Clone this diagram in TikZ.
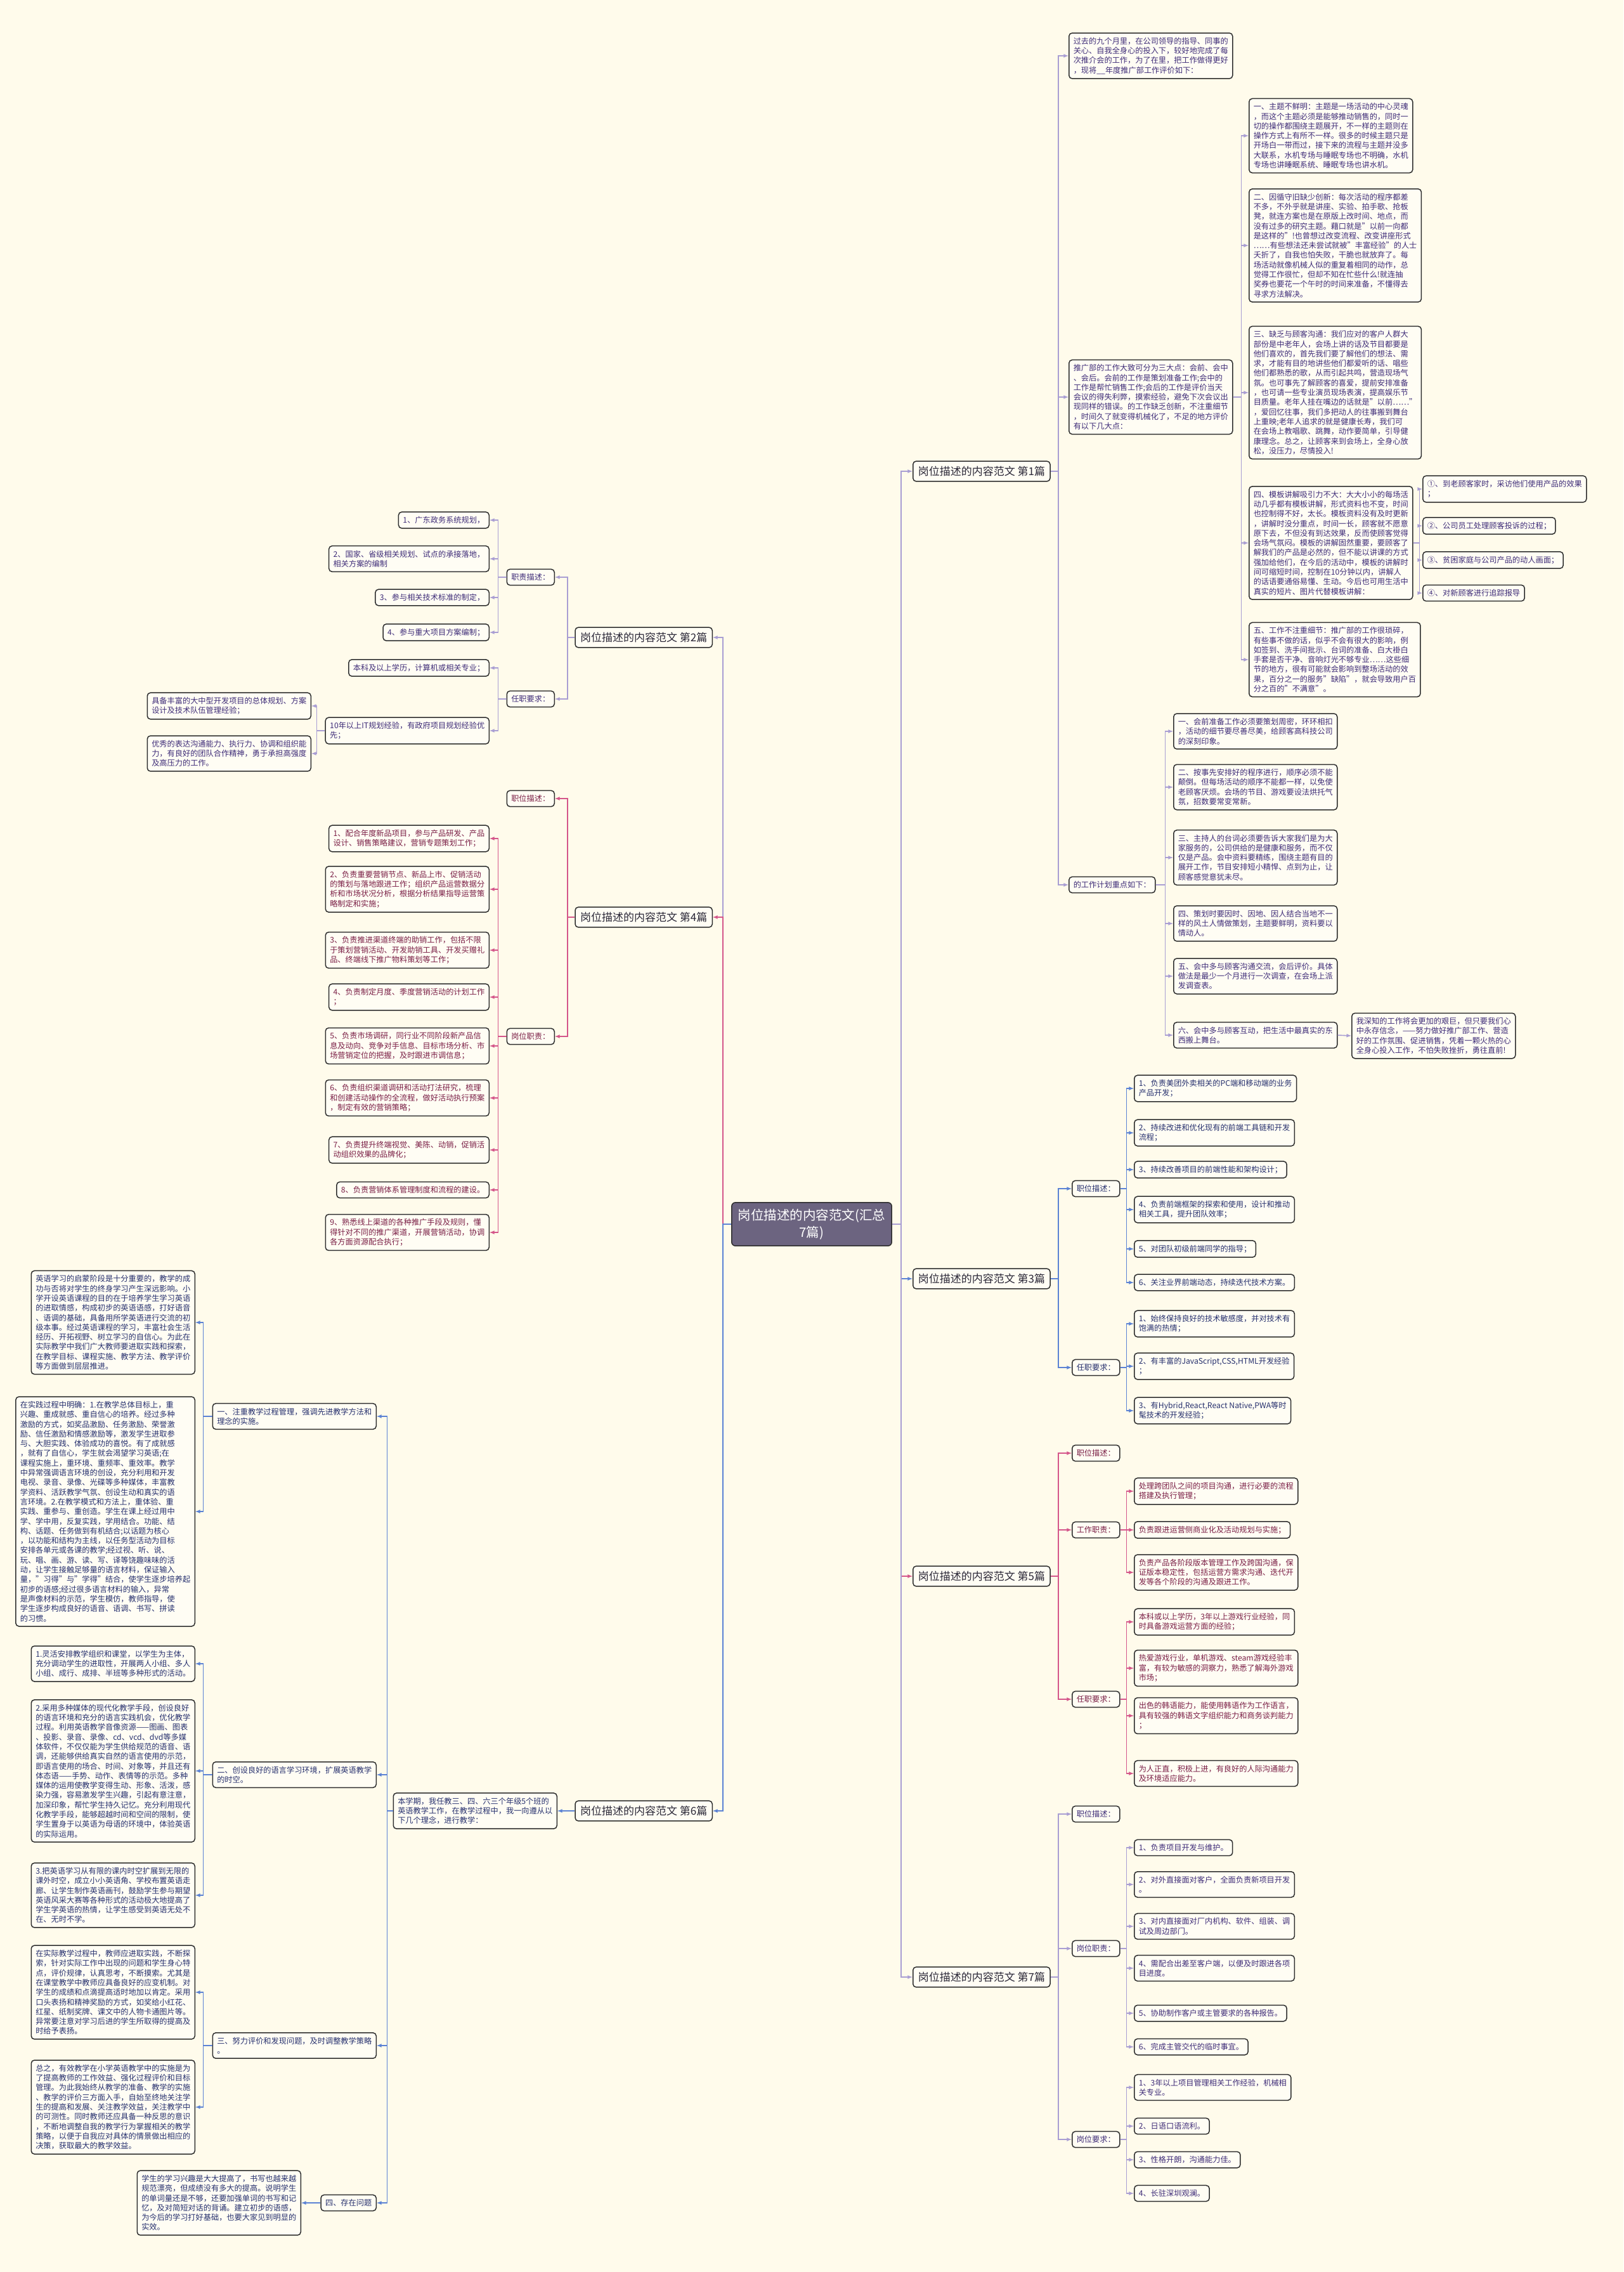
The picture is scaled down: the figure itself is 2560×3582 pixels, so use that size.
\documentclass[tikz,border=0pt]{standalone}
\usepackage{fontspec}
\setmainfont{Noto Sans CJK SC}
\definecolor{bg-cream}{HTML}{FFFBEB}
\definecolor{box-fill}{HTML}{FFFDF4}
\definecolor{box-line}{HTML}{2E2E2E}
\definecolor{root-fill}{HTML}{6C6480}
\definecolor{head-text}{HTML}{2B2838}
\definecolor{pu-text}{HTML}{3E2C78}
\definecolor{pk-text}{HTML}{7A1E45}
\definecolor{bl-text}{HTML}{26306E}
\definecolor{pu-line}{HTML}{A99ED3}
\definecolor{pk-line}{HTML}{D4568A}
\definecolor{bl-line}{HTML}{5B82D4}

\begin{document}
\begin{tikzpicture}[x=1pt, y=-1pt,
  box/.style={draw=box-line, fill=box-fill, rounded corners=5pt, line width=1.5pt,
    inner xsep=7pt, inner ysep=7pt, align=left, font=\fontsize{12.2}{15.3}\selectfont},
  head/.style={box, inner ysep=8pt, inner xsep=8pt, font=\fontsize{17}{20}\selectfont, text=head-text},
  root/.style={draw=box-line, fill=root-fill, rounded corners=6pt, line width=1.5pt,
    inner xsep=10pt, inner ysep=10pt, align=center, text=white, font=\fontsize{20.5}{27}\selectfont},
  pu/.style={text=pu-text}, pk/.style={text=pk-text}, bl/.style={text=bl-text},
  pu link/.style={draw=pu-line, line width=1.6pt, -latex},
  pk link/.style={draw=pk-line, line width=1.6pt, -latex},
  bl link/.style={draw=bl-line, line width=1.6pt, -latex}]
\useasboundingbox (0,0) rectangle (2560,3582);
\fill[bg-cream] (0,0) rectangle (2560,3582);

\node[root] (root) at (1280, 1930) {岗位描述的内容范文(汇总\\7篇)};

\node[head, anchor=west] (s1) at (1439, 743) {岗位描述的内容范文 第1篇};
\node[head, anchor=west] (s3) at (1439, 2016) {岗位描述的内容范文 第3篇};
\node[head, anchor=west] (s5) at (1439, 2485) {岗位描述的内容范文 第5篇};
\node[head, anchor=west] (s7) at (1439, 3117) {岗位描述的内容范文 第7篇};
\node[head, anchor=east] (s2) at (1124, 1005) {岗位描述的内容范文 第2篇};
\node[head, anchor=east] (s4) at (1124, 1446) {岗位描述的内容范文 第4篇};
\node[head, anchor=east] (s6) at (1124, 2855) {岗位描述的内容范文 第6篇};
\draw[pu link] (root.east) -- ++(14,0) |- (s1.west);
\draw[bl link] (root.east) -- ++(14,0) |- (s3.west);
\draw[pk link] (root.east) -- ++(14,0) |- (s5.west);
\draw[pu link] (root.east) -- ++(14,0) |- (s7.west);
\draw[pu link] (root.west) -- ++(-13,0) |- (s2.east);
\draw[pk link] (root.west) -- ++(-13,0) |- (s4.east);
\draw[bl link] (root.west) -- ++(-13,0) |- (s6.east);

% 第1篇
\node[box, pu, anchor=west]
  (s1-intro)
  at (1685, 88)
  {过去的九个月里，在公司领导的指导、同事的\\关心、自我全身心的投入下，较好地完成了每\\次推介会的工作，为了在里，把工作做得更好\\，现将\_\_年度推广部工作评价如下：};
\node[box, pu, anchor=west]
  (s1-main)
  at (1685, 626)
  {推广部的工作大致可分为三大点：会前、会中\\、会后。会前的工作是策划准备工作;会中的\\工作是帮忙销售工作;会后的工作是评价当天\\会议的得失利弊，摸索经验，避免下次会议出\\现同样的错误。的工作缺乏创新，不注重细节\\，时间久了就变得机械化了，不足的地方评价\\有以下几大点：};
\node[box, pu, anchor=west]
  (s1-plan)
  at (1685, 1395)
  {的工作计划重点如下：};
\foreach \n in {s1-intro, s1-main, s1-plan}
  \draw[pu link] (s1.east) -- ++(12,0) |- (\n.west);
\foreach \i/\y/\txt in {
    1/214/{一、主题不鲜明：主题是一场活动的中心灵魂\\，而这个主题必须是能够推动销售的，同时一\\切的操作都围绕主题展开，不一样的主题则在\\操作方式上有所不一样。很多的时候主题只是\\开场白一带而过，接下来的流程与主题并没多\\大联系，水机专场与睡眠专场也不明确，水机\\专场也讲睡眠系统、睡眠专场也讲水机。},
    2/387/{二、因循守旧缺少创新：每次活动的程序都差\\不多，不外乎就是讲座、实验、拍手歌、抢板\\凳，就连方案也是在原版上改时间、地点，而\\没有过多的研究主题。藉口就是"以前一向都\\是这样的"!也曾想过改变流程、改变讲座形式\\……有些想法还未尝试就被"丰富经验"的人士\\夭折了，自我也怕失败，干脆也就放弃了。每\\场活动就像机械人似的重复着相同的动作，总\\觉得工作很忙，但却不知在忙些什么!就连抽\\奖券也要花一个午时的时间来准备，不懂得去\\寻求方法解决。},
    3/619/{三、缺乏与顾客沟通：我们应对的客户人群大\\部份是中老年人，会场上讲的话及节目都要是\\他们喜欢的，首先我们要了解他们的想法、需\\求，才能有目的地讲些他们都爱听的话、唱些\\他们都熟悉的歌，从而引起共鸣，营造现场气\\氛。也可事先了解顾客的喜爱，提前安排准备\\，也可请一些专业演员现场表演，提高娱乐节\\目质量。老年人挂在嘴边的话就是"以前……"\\，爱回忆往事，我们多把动人的往事搬到舞台\\上重映;老年人追求的就是健康长寿，我们可\\在会场上教唱歌、跳舞，动作要简单，引导健\\康理念。总之，让顾客来到会场上，全身心放\\松，没压力，尽情投入!},
    4/856/{四、模板讲解吸引力不大：大大小小的每场活\\动几乎都有模板讲解，形式资料也不变，时间\\也控制得不好，太长。模板资料没有及时更新\\，讲解时没分重点，时间一长，顾客就不愿意\\原下去，不但没有到达效果，反而使顾客觉得\\会场气氛闷。模板的讲解固然重要，要顾客了\\解我们的产品是必然的，但不能以讲课的方式\\强加给他们，在今后的活动中，模板的讲解时\\间可缩短时间，控制在10分钟以内，讲解人\\的话语要通俗易懂、生动。今后也可用生活中\\真实的短片、图片代替模板讲解：},
    5/1040/{五、工作不注重细节：推广部的工作很琐碎，\\有些事不做的话，似乎不会有很大的影响，例\\如签到、洗手间批示、台词的准备、白大褂白\\手套是否干净、音响灯光不够专业……这些细\\节的地方，很有可能就会影响到整场活动的效\\果，百分之一的服务"缺陷"，就会导致用户百\\分之百的"不满意"。}} {
  \node[box, pu, anchor=west] (s1-a\i) at (1969, \y) {\txt};
  \draw[pu link] (s1-main.east) -- ++(13,0) |- (s1-a\i.west);
}
\foreach \i/\y/\txt in {
    1/771/{①、到老顾客家时，采访他们使用产品的效果\\；},
    2/829/{②、公司员工处理顾客投诉的过程；},
    3/883/{③、贫困家庭与公司产品的动人画面；},
    4/935/{④、对新顾客进行追踪报导}} {
  \node[box, pu, anchor=west] (s1-b\i) at (2243, \y) {\txt};
  \draw[pu link] (s1-a4.east) -- ++(10,0) |- (s1-b\i.west);
}
\foreach \i/\y/\txt in {
    1/1153/{一、会前准备工作必须要策划周密，环环相扣\\，活动的细节要尽善尽美，给顾客高科技公司\\的深刻印象。},
    2/1241/{二、按事先安排好的程序进行，顺序必须不能\\颠倒。但每场活动的顺序不能都一样，以免使\\老顾客厌烦。会场的节目、游戏要设法烘托气\\氛，招数要常变常新。},
    3/1352/{三、主持人的台词必须要告诉大家我们是为大\\家服务的，公司供给的是健康和服务，而不仅\\仅是产品。会中资料要精练，围绕主题有目的\\展开工作，节目安排短小精悍、点到为止，让\\顾客感觉意犹未尽。},
    4/1456/{四、策划时要因时、因地、因人结合当地不一\\样的风土人情做策划，主题要鲜明，资料要以\\情动人。},
    5/1539/{五、会中多与顾客沟通交流，会后评价。具体\\做法是最少一个月进行一次调查，在会场上派\\发调查表。},
    6/1632/{六、会中多与顾客互动，把生活中最真实的东\\西搬上舞台。}} {
  \node[box, pu, anchor=west] (s1-c\i) at (1850, \y) {\txt};
  \draw[pu link] (s1-plan.east) -- ++(15,0) |- (s1-c\i.west);
}
\node[box, pu, anchor=west]
  (s1-end)
  at (2131, 1633)
  {我深知的工作将会更加的艰巨，但只要我们心\\中永存信念，——努力做好推广部工作、营造\\好的工作氛围、促进销售，凭着一颗火热的心\\全身心投入工作，不怕失败挫折，勇往直前!};
\draw[pu link] (s1-c6.east) -- (s1-end.west);

% 第3篇
\node[box, bl, anchor=west] (s3-desc) at (1690, 1874) {职位描述：};
\node[box, bl, anchor=west] (s3-req) at (1690, 2156) {任职要求：};
\foreach \n in {s3-desc, s3-req}
  \draw[bl link] (s3.east) -- ++(12,0) |- (\n.west);
\foreach \i/\y/\txt in {
    1/1716/{1、负责美团外卖相关的PC端和移动端的业务\\产品开发；},
    2/1786/{2、持续改进和优化现有的前端工具链和开发\\流程；},
    3/1844/{3、持续改善项目的前端性能和架构设计；},
    4/1907/{4、负责前端框架的探索和使用，设计和推动\\相关工具，提升团队效率；},
    5/1969/{5、对团队初级前端同学的指导；},
    6/2022/{6、关注业界前端动态，持续迭代技术方案。}} {
  \node[box, bl, anchor=west] (s3-a\i) at (1788, \y) {\txt};
  \draw[bl link] (s3-desc.east) -- ++(10,0) |- (s3-a\i.west);
}
\foreach \i/\y/\txt in {
    1/2087/{1、始终保持良好的技术敏感度，并对技术有\\饱满的热情；},
    2/2154/{2、有丰富的JavaScript,CSS,HTML开发经验\\；},
    3/2224/{3、有Hybrid,React,React Native,PWA等时\\髦技术的开发经验；}} {
  \node[box, bl, anchor=west] (s3-b\i) at (1788, \y) {\txt};
  \draw[bl link] (s3-req.east) -- ++(10,0) |- (s3-b\i.west);
}

% 第5篇
\node[box, pk, anchor=west] (s5-desc) at (1690, 2291) {职位描述：};
\node[box, pk, anchor=west] (s5-duty) at (1690, 2412) {工作职责：};
\node[box, pk, anchor=west] (s5-req) at (1690, 2679) {任职要求：};
\foreach \n in {s5-desc, s5-duty, s5-req}
  \draw[pk link] (s5.east) -- ++(12,0) |- (\n.west);
\foreach \i/\y/\txt in {
    1/2351/{处理跨团队之间的项目沟通，进行必要的流程\\搭建及执行管理；},
    2/2412/{负责跟进运营侧商业化及活动规划与实施；},
    3/2479/{负责产品各阶段版本管理工作及跨国沟通，保\\证版本稳定性，包括运营方需求沟通、迭代开\\发等各个阶段的沟通及跟进工作。}} {
  \node[box, pk, anchor=west] (s5-a\i) at (1788, \y) {\txt};
  \draw[pk link] (s5-duty.east) -- ++(10,0) |- (s5-a\i.west);
}
\foreach \i/\y/\txt in {
    1/2557/{本科或以上学历，3年以上游戏行业经验，同\\时具备游戏运营方面的经验；},
    2/2630/{热爱游戏行业，单机游戏、steam游戏经验丰\\富，有较为敏感的洞察力，熟悉了解海外游戏\\市场；},
    3/2705/{出色的韩语能力，能使用韩语作为工作语言，\\具有较强的韩语文字组织能力和商务谈判能力\\；},
    4/2796/{为人正直，积极上进，有良好的人际沟通能力\\及环境适应能力。}} {
  \node[box, pk, anchor=west] (s5-b\i) at (1788, \y) {\txt};
  \draw[pk link] (s5-req.east) -- ++(10,0) |- (s5-b\i.west);
}

% 第7篇
\node[box, pu, anchor=west] (s7-desc) at (1690, 2860) {职位描述：};
\node[box, pu, anchor=west] (s7-duty) at (1690, 3072) {岗位职责：};
\node[box, pu, anchor=west] (s7-req) at (1690, 3373) {岗位要求：};
\foreach \n in {s7-desc, s7-duty, s7-req}
  \draw[pu link] (s7.east) -- ++(12,0) |- (\n.west);
\foreach \i/\y/\txt in {
    1/2913/{1、负责项目开发与维护。},
    2/2971/{2、对外直接面对客户，全面负责新项目开发\\。},
    3/3037/{3、对内直接面对厂内机构、软件、组装、调\\试及周边部门。},
    4/3103/{4、需配合出差至客户端，以便及时跟进各项\\目进度。},
    5/3174/{5、协助制作客户或主管要求的各种报告。},
    6/3227/{6、完成主管交代的临时事宜。}} {
  \node[box, pu, anchor=west] (s7-a\i) at (1788, \y) {\txt};
  \draw[pu link] (s7-duty.east) -- ++(10,0) |- (s7-a\i.west);
}
\foreach \i/\y/\txt in {
    1/3291/{1、3年以上项目管理相关工作经验，机械相\\关专业。},
    2/3352/{2、日语口语流利。},
    3/3405/{3、性格开朗，沟通能力佳。},
    4/3458/{4、长驻深圳观澜。}} {
  \node[box, pu, anchor=west] (s7-b\i) at (1788, \y) {\txt};
  \draw[pu link] (s7-req.east) -- ++(10,0) |- (s7-b\i.west);
}

% 第2篇
\node[box, pu, anchor=east] (s2-duty) at (875, 910) {职责描述：};
\node[box, pu, anchor=east] (s2-req) at (875, 1102) {任职要求：};
\foreach \n in {s2-duty, s2-req}
  \draw[pu link] (s2.west) -- ++(-11,0) |- (\n.east);
\foreach \i/\y/\txt in {
    1/820/{1、广东政务系统规划，},
    2/881/{2、国家、省级相关规划、试点的承接落地，\\相关方案的编制},
    3/942/{3、参与相关技术标准的制定，},
    4/997/{4、参与重大项目方案编制；}} {
  \node[box, pu, anchor=east] (s2-a\i) at (772, \y) {\txt};
  \draw[pu link] (s2-duty.west) -- ++(-13,0) |- (s2-a\i.east);
}
\node[box, pu, anchor=east] (s2-b1) at (772, 1053) {本科及以上学历，计算机或相关专业；};
\node[box, pu, anchor=east] (s2-b2) at (772, 1152) {10年以上IT规划经验，有政府项目规划经验优\\先；};
\foreach \n in {s2-b1, s2-b2}
  \draw[pu link] (s2-req.west) -- ++(-13,0) |- (\n.east);
\node[box, pu, anchor=east] (s2-c1) at (491, 1113) {具备丰富的大中型开发项目的总体规划、方案\\设计及技术队伍管理经验；};
\node[box, pu, anchor=east] (s2-c2) at (491, 1188) {优秀的表达沟通能力、执行力、协调和组织能\\力，有良好的团队合作精神，勇于承担高强度\\及高压力的工作。};
\foreach \n in {s2-c1, s2-c2}
  \draw[pu link] (s2-b2.west) -- ++(-13,0) |- (\n.east);

% 第4篇
\node[box, pk, anchor=east] (s4-desc) at (875, 1259) {职位描述：};
\node[box, pk, anchor=east] (s4-duty) at (875, 1634) {岗位职责：};
\foreach \n in {s4-desc, s4-duty}
  \draw[pk link] (s4.west) -- ++(-11,0) |- (\n.east);
\foreach \i/\y/\txt in {
    1/1322/{1、配合年度新品项目，参与产品研发、产品\\设计、销售策略建议，营销专题策划工作；},
    2/1402/{2、负责重要营销节点、新品上市、促销活动\\的策划与落地跟进工作；组织产品运营数据分\\析和市场状况分析，根据分析结果指导运营策\\略制定和实施；},
    3/1498/{3、负责推进渠道终端的助销工作，包括不限\\于策划营销活动、开发助销工具、开发买赠礼\\品、终端线下推广物料策划等工作；},
    4/1572/{4、负责制定月度、季度营销活动的计划工作\\；},
    5/1649/{5、负责市场调研，同行业不同阶段新产品信\\息及动向、竞争对手信息、目标市场分析、市\\场营销定位的把握，及时跟进市调信息；},
    6/1731/{6、负责组织渠道调研和活动打法研究，梳理\\和创建活动操作的全流程，做好活动执行预案\\，制定有效的营销策略；},
    7/1813/{7、负责提升终端视觉、美陈、动销，促销活\\动组织效果的品牌化；},
    8/1876/{8、负责营销体系管理制度和流程的建设。},
    9/1943/{9、熟悉线上渠道的各种推广手段及规则，懂\\得针对不同的推广渠道，开展营销活动，协调\\各方面资源配合执行；}} {
  \node[box, pk, anchor=east] (s4-a\i) at (772, \y) {\txt};
  \draw[pk link] (s4-duty.west) -- ++(-13,0) |- (s4-a\i.east);
}

% 第6篇
\node[box, bl, anchor=east]
  (s6-intro)
  at (879, 2855)
  {本学期，我任教三、四、六三个年级5个班的\\英语教学工作，在教学过程中，我一向遵从以\\下几个理念，进行教学：};
\draw[bl link] (s6.west) -- (s6-intro.east);
\node[box, bl, anchor=east] (s6-h1) at (594, 2233) {一、注重教学过程管理，强调先进教学方法和\\理念的实施。};
\node[box, bl, anchor=east] (s6-h2) at (594, 2798) {二、创设良好的语言学习环境，扩展英语教学\\的时空。};
\node[box, bl, anchor=east] (s6-h3) at (594, 3225) {三、努力评价和发现问题，及时调整教学策略\\。};
\node[box, bl, anchor=east] (s6-h4) at (594, 3473) {四、存在问题};
\foreach \n in {s6-h1, s6-h2, s6-h3, s6-h4}
  \draw[bl link] (s6-intro.west) -- ++(-9,0) |- (\n.east);
\node[box, bl, anchor=east]
  (s6-a1)
  at (308, 2085)
  {英语学习的启蒙阶段是十分重要的，教学的成\\功与否将对学生的终身学习产生深远影响。小\\学开设英语课程的目的在于培养学生学习英语\\的进取情感，构成初步的英语语感，打好语音\\、语调的基础，具备用所学英语进行交流的初\\级本事。经过英语课程的学习，丰富社会生活\\经历、开拓视野、树立学习的自信心。为此在\\实际教学中我们广大教师要进取实践和探索，\\在教学目标、课程实施、教学方法、教学评价\\等方面做到层层推进。};
\node[box, bl, anchor=east]
  (s6-a2)
  at (308, 2383)
  {在实践过程中明确：1.在教学总体目标上，重\\兴趣、重成就感、重自信心的培养。经过多种\\激励的方式，如奖品激励、任务激励、荣誉激\\励、信任激励和情感激励等，激发学生进取参\\与、大胆实践、体验成功的喜悦。有了成就感\\，就有了自信心，学生就会渴望学习英语;在\\课程实施上，重环境、重频率、重效率。教学\\中异常强调语言环境的创设，充分利用和开发\\电视、录音、录像、光碟等多种媒体，丰富教\\学资料、活跃教学气氛、创设生动和真实的语\\言环境。2.在教学模式和方法上，重体验、重\\实践、重参与、重创造。学生在课上经过用中\\学、学中用，反复实践，学用结合。功能、结\\构、话题、任务做到有机结合;以话题为核心\\，以功能和结构为主线，以任务型活动为目标\\安排各单元或各课的教学;经过视、听、说、\\玩、唱、画、游、读、写、译等饶趣味味的活\\动，让学生接触足够量的语言材料，保证输入\\量，"习得"与"学得"结合，使学生逐步培养起\\初步的语感;经过很多语言材料的输入，异常\\是声像材料的示范，学生模仿，教师指导，使\\学生逐步构成良好的语音、语调、书写、拼读\\的习惯。};
\foreach \n in {s6-a1, s6-a2}
  \draw[bl link] (s6-h1.west) -- ++(-14,0) |- (\n.east);
\node[box, bl, anchor=east]
  (s6-b1)
  at (308, 2623)
  {1.灵活安排教学组织和课堂，以学生为主体，\\充分调动学生的进取性，开展两人小组、多人\\小组、成行、成排、半班等多种形式的活动。};
\node[box, bl, anchor=east]
  (s6-b2)
  at (308, 2792)
  {2.采用多种媒体的现代化教学手段，创设良好\\的语言环境和充分的语言实践机会，优化教学\\过程。利用英语教学音像资源——图画、图表\\、投影、录音、录像、cd、vcd、dvd等多媒\\体软件，不仅仅能为学生供给规范的语音、语\\调，还能够供给真实自然的语言使用的示范，\\即语言使用的场合、时间、对象等，并且还有\\体态语——手势、动作、表情等的示范。多种\\媒体的运用使教学变得生动、形象、活泼，感\\染力强，容易激发学生兴趣，引起有意注意，\\加深印象，帮忙学生持久记忆。充分利用现代\\化教学手段，能够超越时间和空间的限制，使\\学生置身于以英语为母语的环境中，体验英语\\的实际运用。};
\node[box, bl, anchor=east]
  (s6-b3)
  at (308, 2988)
  {3.把英语学习从有限的课内时空扩展到无限的\\课外时空，成立小小英语角、学校布置英语走\\廊、让学生制作英语画刊，鼓励学生参与期望\\英语风采大赛等各种形式的活动极大地提高了\\学生学英语的热情，让学生感受到英语无处不\\在、无时不学。};
\foreach \n in {s6-b1, s6-b2, s6-b3}
  \draw[bl link] (s6-h2.west) -- ++(-14,0) |- (\n.east);
\node[box, bl, anchor=east]
  (s6-c1)
  at (308, 3141)
  {在实际教学过程中，教师应进取实践，不断探\\索，针对实际工作中出现的问题和学生身心特\\点，评价规律，认真思考，不断摸索。尤其是\\在课堂教学中教师应具备良好的应变机制。对\\学生的成绩和点滴提高适时地加以肯定。采用\\口头表扬和精神奖励的方式，如奖给小红花、\\红星、纸制奖牌、课文中的人物卡通图片等。\\异常要注意对学习后进的学生所取得的提高及\\时给予表扬。};
\node[box, bl, anchor=east]
  (s6-c2)
  at (308, 3322)
  {总之，有效教学在小学英语教学中的实施是为\\了提高教师的工作效益、强化过程评价和目标\\管理。为此我始终从教学的准备、教学的实施\\、教学的评价三方面入手，自始至终地关注学\\生的提高和发展、关注教学效益，关注教学中\\的可测性。同时教师还应具备一种反思的意识\\，不断地调整自我的教学行为掌握相关的教学\\策略，以便于自我应对具体的情景做出相应的\\决策，获取最大的教学效益。};
\foreach \n in {s6-c1, s6-c2}
  \draw[bl link] (s6-h3.west) -- ++(-14,0) |- (\n.east);
\node[box, bl, anchor=east]
  (s6-d1)
  at (475, 3473)
  {学生的学习兴趣是大大提高了，书写也越来越\\规范漂亮，但成绩没有多大的提高。说明学生\\的单词量还是不够，还要加强单词的书写和记\\忆，及对简短对话的背诵。建立初步的语感，\\为今后的学习打好基础，也要大家见到明显的\\实效。};
\draw[bl link] (s6-h4.west) -- (s6-d1.east);
\end{tikzpicture}
\end{document}
